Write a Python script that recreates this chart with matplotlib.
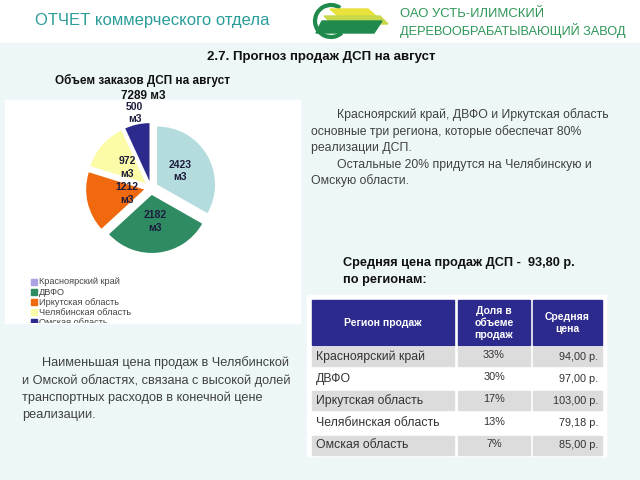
import matplotlib
matplotlib.use('Agg')
import matplotlib.pyplot as plt
from matplotlib.patches import Rectangle, Polygon, Arc
from matplotlib.transforms import Bbox, TransformedBbox
import numpy as np

plt.rcParams['font.family'] = ['Liberation Sans', 'DejaVu Sans']

# data
regions = ['Красноярский край', 'ДВФО', 'Иркутская область',
           'Челябинская область', 'Омская область']
volumes = [2423, 2182, 1212, 972, 500]
prices = [94.00, 97.00, 103.00, 79.18, 85.00]
avg_price = 93.80
pie_colors = ['#b4dcdf', '#2e8b62', '#f0690f', '#fbfba8', '#2c2a8c']
legend_colors = ['#a9a3e3', '#2e8b62', '#f0690f', '#fbfba8', '#2c2a8c']
headers = ['Регион продаж', 'Доля в\nобъеме\nпродаж', 'Средняя\nцена']

total = sum(volumes)
shares = [round(v / total * 100) for v in volumes]


def Y(py):
    return 480 - py


def rub(p):
    return f'{p:.2f}'.replace('.', ',') + ' р.'


fig = plt.figure(figsize=(6.4, 4.8), dpi=100)
ax = fig.add_axes([0, 0, 1, 1])

# background
ax.add_patch(Rectangle((0, 0), 640, 480, color='white', zorder=0))
ax.add_patch(Rectangle((0, 0), 640, Y(43), color='#eef7f8', zorder=0))
box = Rectangle((5, Y(323)), 295, 223, color='white', zorder=1)
ax.add_patch(box)
ax.add_patch(Rectangle((307, Y(456)), 299, 161, color='white', zorder=1))

# header
ax.text(35, Y(20), 'ОТЧЕТ коммерческого отдела', fontsize=12,
        color='#2a9d99', va='center', ha='left')
ax.add_patch(Arc((331, Y(21)), 32, 32, theta1=55, theta2=312,
                 color='#1f8a4c', lw=3))
ax.add_patch(Polygon([(330, Y(9)), (368, Y(9)), (376, Y(16)), (338, Y(16))],
                     color='#e8e23a'))
ax.add_patch(Polygon([(324, Y(16)), (380, Y(16)), (388, Y(24)), (332, Y(24))],
                     color='#c8d84a'))
ax.add_patch(Polygon([(322, Y(21)), (382, Y(21)), (374, Y(33)), (316, Y(33))],
                     color='#1f8a4c'))
ax.text(400, Y(14), 'ОАО УСТЬ-ИЛИМСКИЙ', fontsize=9.4, color='#2e9657',
        va='center', ha='left')
ax.text(400, Y(31), 'ДЕРЕВООБРАБАТЫВАЮЩИЙ ЗАВОД', fontsize=9.2,
        color='#2e9657', va='center', ha='left')

ax.text(321, Y(57), '2.7. Прогноз продаж ДСП на август', fontsize=9.5,
        fontweight='bold', ha='center', va='center', color='#111111')

# pie chart
ax.text(143, Y(80), 'Объем заказов ДСП на август', fontsize=8.5,
        fontweight='bold', ha='center', va='center', color='#111111')
ax.text(143, Y(96), f'{total} м3', fontsize=8.5, fontweight='bold',
        ha='center', va='center', color='#111111', zorder=3)

r = 58
wedges, _ = ax.pie(volumes, colors=pie_colors, startangle=90,
                   counterclock=False, explode=[7] * len(volumes),
                   radius=r, center=(151, Y(188)), frame=True,
                   wedgeprops=dict(linewidth=0, zorder=2))
label_dist = [0.46, 0.46, 0.3, 0.42, 1.2]
for w, v, d in zip(wedges, volumes, label_dist):
    ang = np.deg2rad((w.theta1 + w.theta2) / 2)
    cx, cy = w.center
    ax.text(cx + d * r * np.cos(ang), cy + d * r * np.sin(ang),
            f'{v}\nм3', ha='center', va='center', fontsize=7.5,
            fontweight='bold', color='#1c1c3c', linespacing=1.3, zorder=3)

# legend (clipped by white box like in the slide)
clip = TransformedBbox(Bbox.from_extents(5, Y(323), 300, Y(100)),
                       ax.transData)
for i, (name, c) in enumerate(zip(regions, legend_colors)):
    yy = Y(282 + i * 10.1)
    sq = Rectangle((31, yy - 3), 6, 6, color=c, zorder=3)
    ax.add_patch(sq)
    sq.set_clip_path(box)
    t = ax.text(39, yy, name, fontsize=6.6, color='#444444', va='center',
                ha='left', zorder=3)
    t.set_clip_box(clip)
    t.set_clip_on(True)

# right text
txt_c = '#404040'
lines_r = [(337, 115, 'Красноярский край, ДВФО и Иркутская область'),
           (311, 132, 'основные три региона, которые обеспечат 80%'),
           (311, 148, 'реализации ДСП.'),
           (337, 165, 'Остальные 20% придутся на Челябинскую и'),
           (311, 181, 'Омскую области.')]
for x, y, s in lines_r:
    ax.text(x, Y(y), s, fontsize=8.8, color=txt_c, va='center', ha='left')

lines_l = [(42, 363, 'Наименьшая цена продаж в Челябинской'),
           (22, 381, 'и Омской областях, связана с высокой долей'),
           (22, 398, 'транспортных расходов в конечной цене'),
           (22, 415, 'реализации.')]
for x, y, s in lines_l:
    ax.text(x, Y(y), s, fontsize=9.2, color=txt_c, va='center', ha='left')

ax.text(343, Y(263), f'Средняя цена продаж ДСП -  {rub(avg_price)}',
        fontsize=9.2, fontweight='bold', color='#111111', va='center')
ax.text(343, Y(280), 'по регионам:', fontsize=9.2, fontweight='bold',
        color='#111111', va='center')

# table
cols = [(312, 454), (458, 530), (533, 602)]
navy = '#2d2a8e'
for (x0, x1), h in zip(cols, headers):
    ax.add_patch(Rectangle((x0, Y(345)), x1 - x0, 45, color=navy, zorder=2))
    ax.text((x0 + x1) / 2, Y(322.5), h, color='white', fontsize=7.5,
            fontweight='bold', ha='center', va='center', linespacing=1.25,
            zorder=3)

row_top = 347
pitch = 22.2
for i, (name, sh, p) in enumerate(zip(regions, shares, prices)):
    top = row_top + i * pitch
    if i % 2 == 0:
        for x0, x1 in cols:
            ax.add_patch(Rectangle((x0, Y(top + 19)), x1 - x0, 19,
                                   color='#dcdcdc', zorder=2))
    yc = Y(top + 9.5)
    ax.text(316, yc, name, fontsize=8.8, color='#333333', va='center',
            ha='left', zorder=3)
    ax.text(494, yc + 1.5, f'{sh}%', fontsize=7.8, color='#333333',
            va='center', ha='center', zorder=3)
    ax.text(598, yc, rub(p), fontsize=7.8, color='#333333', va='center',
            ha='right', zorder=3)

ax.set_xlim(0, 640)
ax.set_ylim(0, 480)
ax.set_aspect('auto')
ax.axis('off')

fig.savefig('out.png', dpi=100)
